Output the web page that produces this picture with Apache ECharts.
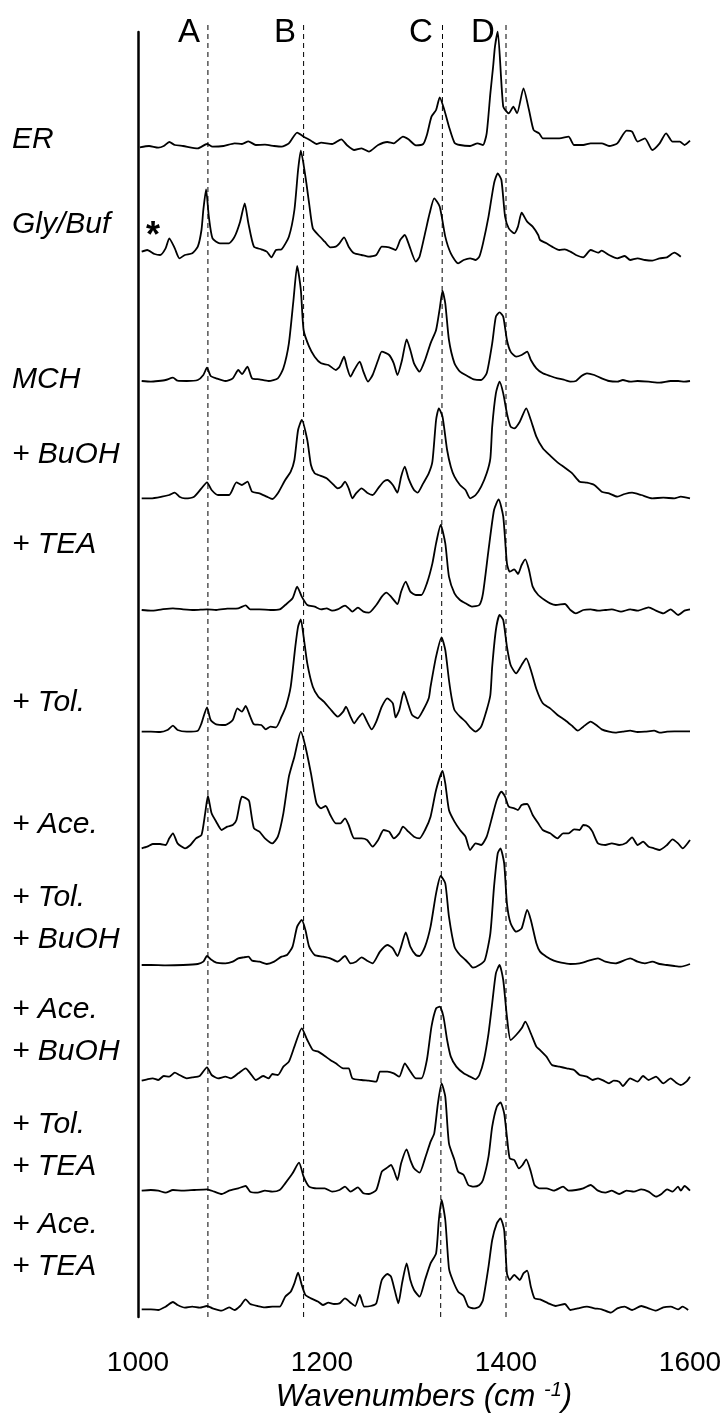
<!DOCTYPE html>
<html>
<head>
<meta charset="utf-8">
<script src="https://cdn.jsdelivr.net/npm/echarts@6/dist/echarts.min.js"></script>
<style>
html, body { margin: 0; padding: 0; background: #fff; }
#chart { width: 725px; height: 1416px; }
</style>
</head>
<body>
<div id="chart"></div>
<script>
// Raman spectra, [wavenumber (cm-1), intensity (arb. units)], one array per sample
const ER = [[1002,-2],[1012,2],[1022,-3],[1028,2],[1034,14],[1040,5],[1049,2],[1065,-5],[1075,8],[1081,0],[1093,2],[1105,10],[1113,8],[1120,16],[1128,5],[1138,6],[1148,2],[1156,0],[1164,10],[1173,42],[1180,30],[1188,18],[1194,8],[1199,12],[1211,8],[1221,22],[1227,5],[1235,-10],[1243,-5],[1251,-15],[1261,5],[1271,14],[1278,10],[1288,30],[1294,22],[1302,4],[1310,8],[1314,35],[1319,90],[1324,110],[1328,148],[1333,110],[1338,60],[1344,12],[1350,5],[1361,2],[1369,10],[1375,5],[1379,40],[1383,160],[1386,240],[1388,300],[1391,345],[1397,120],[1403,100],[1408,120],[1412,100],[1419,175],[1425,110],[1430,50],[1436,40],[1440,25],[1448,25],[1458,25],[1468,30],[1474,5],[1484,5],[1492,10],[1504,10],[1512,2],[1521,10],[1531,48],[1537,45],[1543,15],[1551,25],[1559,-10],[1567,10],[1574,40],[1581,15],[1589,15],[1594,5],[1600,18]];

const GLY_BUF = [[1004,15],[1010,20],[1018,8],[1024,5],[1030,25],[1034,55],[1040,25],[1045,-5],[1051,5],[1059,10],[1065,30],[1069,80],[1071,140],[1074,202],[1077,120],[1081,55],[1089,40],[1099,40],[1105,60],[1111,105],[1116,160],[1120,100],[1126,30],[1134,22],[1140,15],[1145,-2],[1150,20],[1156,22],[1164,60],[1170,140],[1174,260],[1177,318],[1182,240],[1186,160],[1190,85],[1196,65],[1203,45],[1209,28],[1215,30],[1219,40],[1224,58],[1229,30],[1235,10],[1243,5],[1251,0],[1259,5],[1265,30],[1273,28],[1280,20],[1285,50],[1290,65],[1294,40],[1302,-15],[1306,0],[1312,70],[1317,130],[1322,175],[1328,150],[1334,60],[1340,10],[1348,-20],[1354,-10],[1361,-5],[1367,-10],[1371,0],[1375,40],[1381,120],[1387,220],[1391,250],[1395,230],[1399,120],[1403,85],[1409,70],[1413,90],[1417,132],[1423,105],[1429,90],[1435,65],[1437,50],[1444,40],[1450,30],[1458,20],[1464,22],[1470,15],[1476,5],[1484,-2],[1492,20],[1500,12],[1504,18],[1512,5],[1521,-5],[1529,2],[1535,-10],[1543,-5],[1551,-10],[1559,-12],[1567,-5],[1575,-2],[1583,12],[1590,0]];

const MCH = [[1004,0],[1014,-2],[1022,0],[1030,3],[1038,10],[1043,1],[1053,0],[1065,3],[1071,18],[1075,40],[1079,15],[1085,8],[1095,0],[1103,8],[1109,33],[1113,21],[1119,43],[1124,8],[1132,5],[1142,0],[1152,8],[1158,38],[1164,113],[1169,243],[1173,345],[1177,273],[1180,153],[1186,103],[1192,73],[1199,53],[1207,48],[1215,33],[1219,43],[1224,73],[1227,43],[1231,13],[1235,33],[1241,58],[1245,28],[1250,-2],[1255,18],[1261,63],[1265,88],[1273,78],[1278,53],[1282,18],[1287,63],[1292,125],[1296,93],[1300,53],[1306,28],[1312,63],[1318,113],[1324,153],[1328,218],[1331,270],[1334,233],[1338,123],[1344,53],[1350,28],[1358,15],[1365,5],[1373,3],[1379,23],[1385,113],[1389,193],[1393,206],[1397,193],[1401,123],[1405,88],[1411,73],[1417,78],[1423,88],[1427,63],[1433,38],[1440,23],[1448,15],[1456,8],[1464,3],[1470,-2],[1476,0],[1482,15],[1488,23],[1496,18],[1504,8],[1512,0],[1521,-2],[1527,3],[1535,-2],[1543,0],[1555,-2],[1567,-5],[1579,0],[1587,0],[1594,-2],[1600,0]];

const BUOH = [[1004,0],[1014,0],[1026,5],[1034,10],[1040,17],[1045,5],[1051,0],[1061,5],[1069,30],[1075,48],[1080,25],[1087,10],[1099,10],[1107,48],[1113,40],[1119,50],[1124,20],[1132,15],[1140,5],[1146,-2],[1152,15],[1160,55],[1166,80],[1170,115],[1174,205],[1178,235],[1184,175],[1188,100],[1192,75],[1196,70],[1205,60],[1211,45],[1217,30],[1221,35],[1225,50],[1229,30],[1233,0],[1237,15],[1243,30],[1249,17],[1255,10],[1261,30],[1267,50],[1271,55],[1277,40],[1282,17],[1286,65],[1290,95],[1294,60],[1300,25],[1304,17],[1310,45],[1316,75],[1320,110],[1324,235],[1327,270],[1331,245],[1336,145],[1340,95],[1344,65],[1350,40],[1356,25],[1361,0],[1367,10],[1373,35],[1379,75],[1383,120],[1385,215],[1389,315],[1393,350],[1397,315],[1401,255],[1405,215],[1409,210],[1415,230],[1422,270],[1427,235],[1433,185],[1440,150],[1448,128],[1456,108],[1464,92],[1472,75],[1480,50],[1488,47],[1496,40],[1504,20],[1512,15],[1521,5],[1529,13],[1537,17],[1547,10],[1559,0],[1571,2],[1583,0],[1590,5],[1600,0]];

const TEA = [[1004,-2],[1014,-4],[1026,0],[1038,3],[1049,0],[1061,-2],[1075,0],[1085,-2],[1097,2],[1109,3],[1117,12],[1122,0],[1132,0],[1144,-2],[1154,0],[1160,13],[1168,33],[1173,68],[1178,38],[1184,13],[1192,8],[1199,0],[1205,3],[1211,-4],[1217,0],[1225,11],[1229,3],[1233,-7],[1239,5],[1245,-7],[1251,-10],[1259,13],[1265,38],[1270,50],[1275,38],[1282,16],[1286,53],[1291,83],[1296,53],[1302,43],[1308,43],[1314,78],[1320,138],[1324,198],[1329,253],[1334,198],[1338,98],[1344,48],[1350,28],[1356,18],[1363,8],[1371,13],[1375,48],[1381,178],[1387,298],[1392,330],[1397,278],[1401,138],[1404,113],[1409,120],[1413,106],[1417,133],[1421,150],[1425,118],[1429,68],[1435,43],[1442,28],[1448,18],[1454,13],[1464,16],[1470,-2],[1476,-12],[1484,-2],[1492,0],[1500,-4],[1508,-2],[1515,0],[1525,-7],[1535,0],[1543,-4],[1555,6],[1563,-4],[1571,-12],[1579,0],[1587,-17],[1594,-4],[1600,0]];

const TOL = [[1004,0],[1014,0],[1024,-1],[1032,5],[1038,18],[1043,5],[1053,0],[1065,3],[1069,25],[1075,73],[1079,35],[1085,22],[1095,20],[1103,35],[1108,70],[1113,60],[1117,77],[1122,45],[1126,22],[1134,20],[1139,7],[1144,15],[1150,13],[1156,45],[1161,78],[1166,135],[1171,255],[1174,315],[1177,337],[1180,285],[1184,205],[1190,135],[1196,105],[1202,90],[1209,68],[1217,45],[1223,60],[1226,75],[1231,45],[1235,25],[1239,40],[1244,55],[1249,30],[1254,7],[1259,30],[1265,75],[1271,100],[1277,85],[1280,43],[1284,65],[1289,120],[1294,80],[1298,50],[1304,40],[1310,65],[1316,100],[1318,135],[1324,225],[1330,283],[1334,245],[1338,155],[1341,100],[1344,65],[1350,45],[1356,30],[1361,13],[1367,0],[1373,15],[1379,65],[1383,110],[1385,195],[1389,305],[1393,350],[1397,335],[1401,255],[1405,200],[1411,175],[1417,200],[1422,220],[1427,185],[1433,128],[1440,85],[1448,70],[1456,50],[1464,35],[1472,17],[1478,3],[1484,15],[1492,30],[1498,20],[1504,7],[1512,0],[1519,-3],[1527,0],[1535,3],[1543,-1],[1551,0],[1561,3],[1567,-3],[1575,0],[1583,1],[1590,1],[1600,1]];

const ACE = [[1004,-10],[1010,-5],[1016,3],[1024,3],[1030,0],[1034,20],[1038,35],[1043,5],[1051,-10],[1057,0],[1063,20],[1069,30],[1073,95],[1076,147],[1080,95],[1085,70],[1091,45],[1097,55],[1103,60],[1107,75],[1111,130],[1113,145],[1119,137],[1121,130],[1126,50],[1132,40],[1138,20],[1146,5],[1152,25],[1158,95],[1164,205],[1170,265],[1177,340],[1182,295],[1188,215],[1194,125],[1199,110],[1204,117],[1209,90],[1215,65],[1220,65],[1225,80],[1229,60],[1235,20],[1243,20],[1249,15],[1255,-5],[1261,15],[1267,45],[1273,40],[1278,20],[1284,35],[1288,55],[1294,40],[1300,25],[1306,20],[1312,45],[1318,85],[1324,165],[1331,222],[1334,185],[1338,105],[1344,70],[1350,45],[1356,25],[1361,-15],[1367,5],[1373,0],[1379,25],[1385,85],[1390,135],[1395,160],[1399,145],[1403,115],[1409,110],[1413,105],[1417,120],[1423,123],[1429,90],[1435,65],[1440,45],[1448,35],[1456,20],[1462,35],[1468,35],[1474,47],[1480,45],[1484,60],[1490,55],[1494,40],[1500,5],[1508,0],[1515,5],[1523,0],[1531,7],[1537,23],[1543,0],[1549,10],[1555,-5],[1561,-10],[1567,-15],[1575,0],[1581,17],[1587,5],[1592,-10],[1600,15]];

const TOL_BUOH = [[1004,0],[1014,0],[1030,-1],[1049,0],[1065,3],[1071,10],[1075,27],[1079,17],[1085,7],[1095,5],[1103,10],[1109,20],[1115,23],[1120,25],[1124,13],[1132,10],[1140,3],[1148,10],[1156,25],[1162,30],[1168,55],[1173,115],[1178,135],[1182,105],[1186,55],[1192,30],[1201,25],[1209,20],[1217,10],[1225,27],[1231,5],[1237,10],[1243,23],[1249,13],[1255,5],[1263,40],[1271,60],[1277,50],[1282,27],[1286,55],[1291,98],[1296,55],[1302,30],[1306,27],[1312,55],[1318,115],[1324,215],[1329,267],[1334,245],[1338,145],[1344,55],[1350,30],[1356,15],[1361,0],[1364,-8],[1371,0],[1377,15],[1383,95],[1387,235],[1391,335],[1394,350],[1398,305],[1401,185],[1405,125],[1411,100],[1417,110],[1423,165],[1427,135],[1433,65],[1437,40],[1444,25],[1452,13],[1460,7],[1470,3],[1480,5],[1490,13],[1500,20],[1508,10],[1519,5],[1535,20],[1543,10],[1551,5],[1559,10],[1567,3],[1575,0],[1583,-3],[1590,-5],[1600,3]];

const ACE_BUOH = [[1004,0],[1010,4],[1016,7],[1022,2],[1028,14],[1034,12],[1040,24],[1045,17],[1053,7],[1059,10],[1067,14],[1075,40],[1080,17],[1087,7],[1095,12],[1101,7],[1109,22],[1117,37],[1122,22],[1128,2],[1136,14],[1142,7],[1146,20],[1152,17],[1158,42],[1164,57],[1170,102],[1178,157],[1184,122],[1190,92],[1196,87],[1203,74],[1209,62],[1215,52],[1223,37],[1229,37],[1233,7],[1243,2],[1251,0],[1259,-3],[1263,27],[1271,27],[1278,22],[1284,12],[1290,52],[1295,32],[1302,7],[1308,7],[1314,62],[1319,162],[1324,217],[1328,222],[1332,192],[1336,122],[1340,72],[1346,42],[1354,22],[1361,12],[1367,4],[1371,17],[1376,62],[1381,142],[1385,232],[1389,322],[1393,347],[1397,302],[1401,192],[1405,122],[1411,137],[1417,157],[1421,177],[1427,142],[1433,102],[1437,92],[1444,72],[1450,47],[1458,42],[1466,37],[1474,32],[1480,17],[1488,12],[1494,2],[1500,7],[1506,0],[1512,-8],[1517,0],[1523,-3],[1527,-16],[1535,7],[1543,-3],[1549,14],[1555,2],[1563,12],[1571,-8],[1579,7],[1585,-6],[1590,-13],[1596,-3],[1600,12]];

const TOL_TEA = [[1004,0],[1014,2],[1022,0],[1030,-6],[1038,2],[1049,0],[1061,2],[1075,4],[1083,-3],[1091,-10],[1099,0],[1109,7],[1117,14],[1122,-3],[1130,-6],[1138,0],[1146,-3],[1154,2],[1160,22],[1168,52],[1175,84],[1180,42],[1186,12],[1194,7],[1203,7],[1211,-3],[1219,2],[1225,12],[1231,-3],[1239,10],[1245,-8],[1251,-10],[1259,2],[1265,57],[1270,67],[1275,77],[1278,62],[1282,32],[1286,82],[1292,124],[1296,92],[1300,67],[1306,54],[1312,97],[1318,147],[1322,172],[1326,262],[1330,322],[1334,282],[1338,142],[1344,92],[1348,57],[1354,47],[1359,17],[1365,12],[1371,17],[1375,32],[1381,102],[1385,192],[1390,252],[1394,265],[1398,232],[1401,162],[1404,97],[1409,92],[1414,67],[1418,77],[1422,94],[1427,57],[1431,17],[1436,7],[1444,7],[1452,0],[1462,12],[1468,0],[1476,2],[1484,7],[1492,17],[1500,0],[1508,-6],[1515,0],[1523,-10],[1531,0],[1539,-3],[1547,4],[1555,-3],[1563,-18],[1569,-10],[1575,4],[1581,-3],[1587,12],[1590,0],[1594,14],[1600,0]];

const ACE_TEA = [[1004,0],[1014,0],[1022,-2],[1030,8],[1038,22],[1043,13],[1051,5],[1059,8],[1067,5],[1075,10],[1081,3],[1091,-4],[1099,6],[1105,-2],[1111,10],[1117,30],[1122,16],[1130,10],[1138,6],[1146,8],[1154,8],[1160,38],[1166,53],[1170,78],[1174,110],[1178,73],[1182,43],[1188,33],[1196,23],[1201,13],[1207,20],[1213,16],[1219,18],[1225,33],[1231,20],[1236,10],[1241,43],[1246,8],[1253,10],[1259,18],[1265,88],[1271,106],[1275,98],[1279,58],[1283,18],[1287,78],[1292,138],[1296,88],[1300,58],[1306,38],[1312,88],[1318,138],[1324,168],[1327,268],[1330,328],[1334,268],[1338,123],[1342,88],[1348,53],[1354,40],[1359,8],[1365,3],[1371,8],[1375,28],[1381,128],[1385,208],[1390,258],[1394,273],[1398,238],[1401,108],[1404,88],[1409,103],[1415,88],[1419,108],[1423,116],[1427,68],[1431,33],[1437,30],[1446,18],[1454,10],[1464,16],[1470,-2],[1478,3],[1488,8],[1496,3],[1504,0],[1514,-10],[1521,3],[1529,8],[1537,-2],[1547,10],[1555,3],[1563,-4],[1571,6],[1579,8],[1587,0],[1592,8],[1598,-2]];

// Sample names, top to bottom (one entry per text line)
const sampleNames = [
  ['ER'], ['Gly/Buf'], ['MCH'], ['+ BuOH'], ['+ TEA'], ['+ Tol.'], ['+ Ace.'],
  ['+ Tol.', '+ BuOH'], ['+ Ace.', '+ BuOH'], ['+ Tol.', '+ TEA'], ['+ Ace.', '+ TEA']
];
const spectra = [ER, GLY_BUF, MCH, BUOH, TEA, TOL, ACE, TOL_BUOH, ACE_BUOH, TOL_TEA, ACE_TEA];
// Vertical offset of each trace in the stack (arb. units)
const stackOffsets = [3511, 3181, 2808, 2456, 2123, 1756, 1416, 1056, 709, 379, 23];

// Reference bands A-D (wavenumber at bottom and top of each guide line)
const bandNames = ['A', 'B', 'C', 'D'];
const bandBottom = [1076, 1180, 1329, 1400];
const bandTop = [1076, 1180, 1331, 1400];

const X_MIN = 1000, X_MAX = 1600, X_STEP = 200;

// ---- layout ----
const GRID = { left: 138, right: 35, top: 32, bottom: 99 };
const PLOT_H = 1416 - GRID.top - GRID.bottom;
const UNITS_PER_PX = 3;
const Y_MAX = PLOT_H * UNITS_PER_PX;
const GUIDE_TOP = Y_MAX + 8 * UNITS_PER_PX;

const FONT = '"Liberation Sans", Arial, sans-serif';
const labelTops = [140, 225, 380, 455, 545, 703, 825, 898, 1010, 1125, 1225];
const LINE_GAP = 42;

const chart = echarts.init(document.getElementById('chart'), null, { renderer: 'canvas' });

const series = [];
bandNames.forEach((name, i) => {
  series.push({
    type: 'line', name: 'band ' + name,
    data: [[bandBottom[i], 0], [bandTop[i], GUIDE_TOP]],
    showSymbol: false, symbol: 'none', clip: false, silent: true, z: 1,
    lineStyle: { color: '#000', width: 1, type: [5, 4] }
  });
});
spectra.forEach((s, i) => {
  series.push({
    type: 'line', name: sampleNames[i].join(' '),
    data: s.map(p => [p[0], p[1] + stackOffsets[i]]),
    showSymbol: false, symbol: 'none', clip: false, silent: true, z: 3,
    smooth: 0.2,
    lineStyle: { color: '#000', width: 1.8, join: 'round' }
  });
});

const graphics = [];
sampleNames.forEach((lines, i) => {
  lines.forEach((t, j) => {
    graphics.push({
      type: 'text', x: 12, y: labelTops[i] + j * LINE_GAP,
      style: { text: t, font: 'italic 30px ' + FONT, fill: '#000', verticalAlign: 'middle' }
    });
  });
});
const bandLabelX = [189, 285, 421, 483];
bandNames.forEach((n, i) => {
  graphics.push({
    type: 'text', x: bandLabelX[i], y: 33,
    style: { text: n, font: '33px ' + FONT, fill: '#000', align: 'center', verticalAlign: 'middle' }
  });
});
graphics.push({
  type: 'text', x: 153, y: 237,
  style: { text: '*', font: 'bold 36px ' + FONT, fill: '#000', align: 'center', verticalAlign: 'middle' }
});
graphics.push({
  type: 'text', x: 424, y: 1397,
  style: {
    text: '{m|Wavenumbers (cm }{s|-1}{m|)}',
    align: 'center', verticalAlign: 'middle',
    rich: {
      m: { font: 'italic 31px ' + FONT, fill: '#000' },
      s: { font: 'italic 20px ' + FONT, fill: '#000', verticalAlign: 'top', padding: [0, 0, 14, 0] }
    }
  }
});

chart.setOption({
  animation: false,
  backgroundColor: '#fff',
  grid: GRID,
  xAxis: {
    type: 'value', min: X_MIN, max: X_MAX, interval: X_STEP,
    axisLine: { show: false }, axisTick: { show: false }, splitLine: { show: false },
    axisLabel: { margin: 32, fontSize: 28, fontFamily: FONT, color: '#000', formatter: v => String(v) }
  },
  yAxis: {
    type: 'value', min: 0, max: Y_MAX,
    axisLine: { show: true, lineStyle: { color: '#000', width: 2.5 } },
    axisTick: { show: false }, axisLabel: { show: false }, splitLine: { show: false }
  },
  series: series,
  graphic: graphics
});
</script>
</body>
</html>
